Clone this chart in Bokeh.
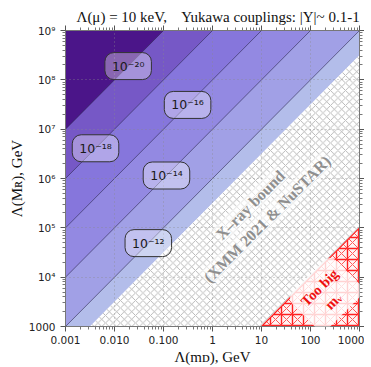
import numpy as np
from bokeh.plotting import figure
from bokeh.models import LogAxis, FixedTicker, Label
from bokeh.embed import file_html
from bokeh.resources import INLINE

# ---------------- data ----------------
x_lim = [1e-3, 1e3]          # Lambda(m_D), GeV
y_lim = [1e3, 1e9]           # Lambda(M_R), GeV
x_ticks = [1e-3, 1e-2, 1e-1, 1, 10, 100, 1000]
x_tick_labels = ["0.001", "0.010", "0.100", "1", "10", "100", "1000"]
y_ticks = [1e3, 1e4, 1e5, 1e6, 1e7, 1e8, 1e9]
y_tick_labels = ["1000", "10⁴", "10⁵", "10⁶", "10⁷", "10⁸", "10⁹"]

# filled bands: region above the line log10(M_R/m_D) = level
band_levels = [5.5, 6, 7, 8, 9, 10]
band_colors = ["#b3bdea", "#a1a0e6", "#9389e2", "#8676dc", "#7658c6", "#4b1589"]
# contour lines and their labels
contour_levels = [10, 9, 8, 7, 6]
contour_labels = ["10⁻²⁰", "10⁻¹⁸", "10⁻¹⁶", "10⁻¹⁴", "10⁻¹²"]
contour_label_mD = [0.019, 0.0041, 0.31, 0.115, 0.049]
# excluded regions
xray_level = 5.5     # below: X-ray bound
mnu_level = 2        # below: too big m_nu

TITLE = "Λ(μ) = 10 keV,\u00a0\u00a0\u00a0 Yukawa couplings: |Y|~ 0.1-1"
X_LABEL = "Λ(mᴅ), GeV"
Y_LABEL = "Λ(Mʀ), GeV"

lx0, lx1 = np.log10(x_lim)
ly0, ly1 = np.log10(y_lim)


def _ends(k):
    s = (lx0, k + lx0) if k + lx0 >= ly0 else (ly0 - k, ly0)
    e = (lx1, k + lx1) if k + lx1 <= ly1 else (ly1 - k, ly1)
    return s, e


def above(k):
    s, e = _ends(k)
    pts = [s, e]
    if e[0] == lx1 and e[1] < ly1:
        pts.append((lx1, ly1))
    pts.append((lx0, ly1))
    if s[1] == ly0 and s[0] > lx0:
        pts.append((lx0, ly0))
    a = np.array(pts)
    return list(10 ** a[:, 0]), list(10 ** a[:, 1])


def below(k):
    s, e = _ends(k)
    pts = [s, e]
    if e[1] == ly1 and e[0] < lx1:
        pts.append((lx1, ly1))
    pts.append((lx1, ly0))
    if s[0] == lx0 and s[1] > ly0:
        pts.append((lx0, ly0))
    a = np.array(pts)
    return list(10 ** a[:, 0]), list(10 ** a[:, 1])


def line(k):
    s, e = _ends(k)
    return [10 ** s[0], 10 ** e[0]], [10 ** s[1], 10 ** e[1]]


serif = "Liberation Serif"

# ---------------- figure ----------------
p = figure(x_axis_type="log", y_axis_type="log",
           x_range=tuple(x_lim), y_range=tuple(y_lim),
           frame_width=294, frame_height=296,
           min_border_left=65, min_border_right=4,
           min_border_top=30, min_border_bottom=30,
           output_backend="svg", toolbar_location=None,
           background_fill_color="white", border_fill_color="white",
           title=TITLE)
p.title.align = "left"
p.title.offset = 11
p.title.text_font = serif
p.title.text_font_size = "15px"
p.title.text_font_style = "normal"
p.title.text_color = "#111111"
p.title.standoff = 2
p.outline_line_color = "#777777"
p.outline_line_width = 1

minor = [m * 10.0 ** n for n in range(-3, 9) for m in range(2, 10)]

for ax in (p.xaxis[0], p.yaxis[0]):
    ax.major_tick_in = 0
    ax.major_tick_out = 5
    ax.minor_tick_in = 0
    ax.minor_tick_out = 3
    ax.axis_line_color = "#777777"
    ax.major_tick_line_color = "#555555"
    ax.minor_tick_line_color = "#777777"
    ax.major_label_text_font = "DejaVu Sans"
    ax.major_label_text_font_size = "10.5px"
    ax.major_label_text_color = "#222222"
    ax.axis_label_text_font = serif
    ax.axis_label_text_font_size = "15px"
    ax.axis_label_text_font_style = "normal"
    ax.axis_label_text_color = "#111111"

p.xaxis.ticker = FixedTicker(ticks=x_ticks, minor_ticks=minor)
p.yaxis.ticker = FixedTicker(ticks=y_ticks, minor_ticks=minor)
p.xaxis.major_label_overrides = {t: l for t, l in zip(x_ticks, x_tick_labels)}
p.yaxis.major_label_overrides = {t: l for t, l in zip(y_ticks, y_tick_labels)}
p.xaxis.major_label_standoff = 4
p.yaxis.major_label_standoff = 5
p.xaxis.axis_label = X_LABEL
p.yaxis.axis_label = Y_LABEL
p.xaxis.axis_label_standoff = 2
p.yaxis.axis_label_standoff = 1

for loc in ("above", "right"):
    ax = LogAxis(ticker=FixedTicker(ticks=x_ticks if loc == "above" else y_ticks,
                                    minor_ticks=minor))
    ax.major_label_text_font_size = "1px"
    ax.major_label_text_alpha = 0
    ax.major_label_standoff = 0
    ax.major_tick_in = 0
    ax.major_tick_out = 5
    ax.minor_tick_in = 0
    ax.minor_tick_out = 3
    ax.axis_line_color = "#777777"
    ax.major_tick_line_color = "#555555"
    ax.minor_tick_line_color = "#777777"
    p.add_layout(ax, loc)

p.xgrid.ticker = FixedTicker(ticks=x_ticks)
p.ygrid.ticker = FixedTicker(ticks=y_ticks)
p.grid.grid_line_color = "#8a8a8a"
p.grid.grid_line_alpha = 0.7
p.grid.grid_line_dash = "1 3"
p.grid.grid_line_width = 1
p.grid.level = "annotation"

# bands
for k, c in zip(band_levels, band_colors):
    xs, ys = above(k)
    p.patch(xs, ys, fill_color=c, line_color=None)

# X-ray excluded region (hatched)
xs, ys = below(xray_level)
p.patch(xs, ys, fill_color="white", line_color=None,
        hatch_pattern="x", hatch_color="#a6a6a6", hatch_scale=7.5, hatch_weight=0.8)

# too big m_nu region
xs, ys = below(mnu_level)
p.patch(xs, ys, fill_color="#fff2f2", line_color=None,
        hatch_pattern="+", hatch_color="#ff2020", hatch_scale=11, hatch_weight=1.4)
p.patch(xs, ys, fill_color=None, line_color="#ff2020", line_width=1.2,
        hatch_pattern="x", hatch_color="#ff3030", hatch_scale=11, hatch_weight=0.8)

# contour lines
for k in contour_levels:
    lx, ly = line(k)
    p.line(lx, ly, line_color="#2e2850", line_width=0.8, line_alpha=0.75)

# contour labels
for k, t, mD in zip(contour_levels, contour_labels, contour_label_mD):
    p.add_layout(Label(x=mD, y=mD * 10.0 ** k, text=t,
                       text_align="center", text_baseline="middle",
                       text_font="DejaVu Sans", text_font_size="12.5px",
                       text_color="#1a1a1a",
                       background_fill_color="white", background_fill_alpha=0.35,
                       border_line_color="#333333", border_line_width=1,
                       padding=(7, 6), border_radius=9))

# X-ray bound text
ang = np.pi / 4
p.add_layout(Label(x=5.9, y=2.9e5, text="X–ray bound", angle=ang,
                   text_align="center", text_baseline="middle",
                   text_font=serif, text_font_style="bold",
                   text_font_size="16px", text_color="#8f8f8f",
                   background_fill_color="white", background_fill_alpha=0.55,
                   padding=1))
p.add_layout(Label(x=13, y=1.5e5, text="(XMM 2021 & NuSTAR)", angle=ang,
                   text_align="center", text_baseline="middle",
                   text_font=serif, text_font_style="bold",
                   text_font_size="16px", text_color="#8f8f8f",
                   background_fill_color="white", background_fill_alpha=0.55,
                   padding=1))

# too big m_nu text
p.add_layout(Label(x=210, y=4.5e3, text="Too big\nmᵥ", angle=ang,
                   text_align="center", text_baseline="middle",
                   text_font=serif, text_font_style="bold",
                   text_font_size="14.5px", text_color="#ee1111",
                   background_fill_color="white", background_fill_alpha=0.8,
                   padding=8, border_radius=9))

open("out.html", "w").write(file_html(p, INLINE))
